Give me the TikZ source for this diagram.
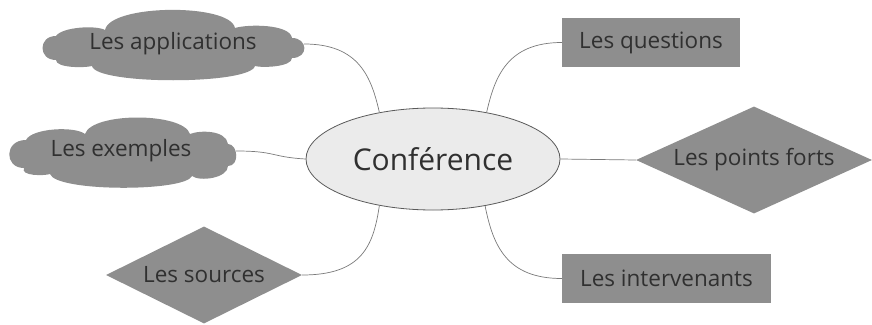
\documentclass[tikz,border=0pt]{standalone}
\usepackage{fontspec}
\setmainfont{Open Sans}
\usetikzlibrary{shapes.geometric}
\definecolor{boxgray}{HTML}{8E8E8E}
\definecolor{txtgray}{HTML}{303030}
\definecolor{ellfill}{HTML}{EBEBEB}
\definecolor{ellline}{HTML}{5A5A5A}
\definecolor{linkgray}{HTML}{7A7A7A}
\tikzset{
  lbl/.style={text=txtgray,font=\fontsize{22.5}{26}\selectfont},
  boxnode/.style={lbl,rectangle,fill=boxgray,inner sep=0pt},
  diamnode/.style={lbl,diamond,fill=boxgray,inner sep=0pt,aspect=2.2},
  cloudtext/.style={lbl,rectangle,inner sep=0pt},
  cloudfill/.style={fill=boxgray},
  centernode/.style={ellipse,fill=ellfill,draw=ellline,line width=0.8pt,text=txtgray,font=\fontsize{30}{34}\selectfont,inner sep=0pt},
  link/.style={draw=linkgray,line width=0.7pt}
}
\begin{document}
\begin{tikzpicture}[x=1pt,y=-1pt]
\useasboundingbox (0,0) rectangle (872,324);
% cloud outlines
\path[cloudfill] (56,60) .. controls (38,60) and (38,36) .. (56,36)
  .. controls (62,27) and (96,25) .. (105,30)
  .. controls (110,4) and (230,3) .. (235,28)
  .. controls (248,24) and (290,24) .. (292,38)
  .. controls (308,38) and (309,58) .. (292,58)
  .. controls (292,67) and (262,68) .. (255,66)
  .. controls (250,85) and (96,85) .. (92,66)
  .. controls (84,68) and (56,68) .. (56,60) -- cycle;
\path[cloudfill] (24,168) .. controls (4,168) and (4,140) .. (26,140)
  .. controls (32,128) and (75,126) .. (85,134)
  .. controls (92,112) and (183,112) .. (190,134)
  .. controls (200,130) and (226,130) .. (228,144)
  .. controls (238,144) and (240,166) .. (228,166)
  .. controls (228,178) and (200,182) .. (192,176)
  .. controls (185,192) and (56,192) .. (50,174)
  .. controls (44,176) and (20,176) .. (24,168) -- cycle;
% nodes
\node[centernode,minimum width=254,minimum height=102] (conf) at (433,159) {Conférence};
\node[cloudtext,minimum width=262,minimum height=68] (app) at (173,44) {Les applications};
\node[cloudtext,minimum width=230,minimum height=68] (ex) at (121,151) {Les exemples};
\node[diamnode,minimum width=196,minimum height=97] (src) at (204,275) {Les sources};
\node[boxnode,minimum width=178,minimum height=49] (q) at (651,42.5) {Les questions};
\node[diamnode,minimum width=236,minimum height=107] (pf) at (754,160) {Les points forts};
\node[boxnode,minimum width=209,minimum height=49] (int) at (666.5,278.5) {Les intervenants};
% connectors
\draw[link] (app.east) .. controls +(55,0) and +(-8,-35) .. (conf.139);
\draw[link] (ex.east) .. controls +(40,0) and +(-35,-2) .. (conf.180);
\draw[link] (src.east) .. controls +(60,0) and +(-6,40) .. (conf.-139);
\draw[link] (q.west) .. controls +(-55,0) and +(8,-35) .. (conf.41);
\draw[link] (pf.west) -- (conf.0);
\draw[link] (int.west) .. controls +(-55,0) and +(8,40) .. (conf.-42);
\end{tikzpicture}
\end{document}
